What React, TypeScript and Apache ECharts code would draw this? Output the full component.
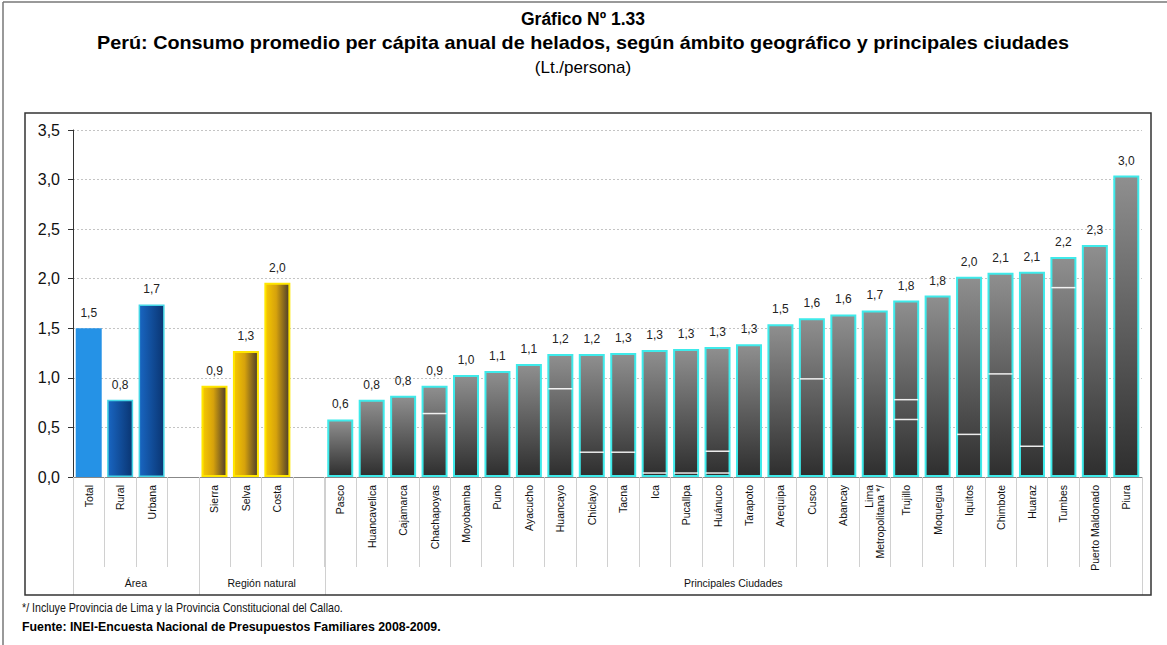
import React, { useEffect, useRef } from "react";
import * as echarts from "echarts";

const areaCategories = ["Total", "Rural", "Urbana"];
const areaValues = [1.5, 0.78, 1.74];
const regionCategories = ["Sierra", "Selva", "Costa"];
const regionValues = [0.92, 1.27, 1.96];
const cityCategories = [
  "Pasco", "Huancavelica", "Cajamarca", "Chachapoyas", "Moyobamba", "Puno", "Ayacucho",
  "Huancayo", "Chiclayo", "Tacna", "Ica", "Pucallpa", "Huánuco", "Tarapoto", "Arequipa",
  "Cusco", "Abancay", "Lima\nMetropolitana */", "Trujillo", "Moquegua", "Iquitos", "Chimbote",
  "Huaraz", "Tumbes", "Puerto Maldonado", "Piura",
];
const cityValues = [
  0.58, 0.78, 0.82, 0.92, 1.03, 1.07, 1.14, 1.24, 1.24, 1.25, 1.28, 1.29, 1.31, 1.34, 1.54,
  1.6, 1.64, 1.68, 1.78, 1.83, 2.02, 2.06, 2.07, 2.22, 2.34, 3.04,
];
const groupLabels = ["Área", "Región natural", "Principales Ciudades"];
const yTicks = [0, 0.5, 1, 1.5, 2, 2.5, 3, 3.5];

// stray white lines visible inside some bars of the original picture
const innerLineCities = [
  "Chachapoyas", "Huancayo", "Chiclayo", "Tacna", "Ica", "Pucallpa", "Huánuco", "Huánuco",
  "Cusco", "Trujillo", "Trujillo", "Iquitos", "Chimbote", "Huaraz", "Tumbes",
];
const innerLineValues = [0.64, 0.89, 0.25, 0.25, 0.04, 0.04, 0.26, 0.04, 0.99, 0.78, 0.58, 0.43, 1.04, 0.31, 1.91];

const titleLines = [
  "Gráfico Nº 1.33",
  "Perú: Consumo promedio per cápita anual de helados, según ámbito geográfico y principales ciudades",
  "(Lt./persona)",
];
const noteText = "*/ Incluye Provincia de Lima y la Provincia Constitucional del Callao.";
const sourceText = "Fuente: INEI-Encuesta Nacional de Presupuestos Familiares 2008-2009.";

const FONT = "'Liberation Sans', Arial, sans-serif";

export default function App() {
  const ref = useRef<HTMLDivElement>(null);

  useEffect(() => {
    document.body.style.margin = "0";
    const el = ref.current!;
    const chart = echarts.init(el, undefined, { renderer: "svg" });

    const categories = [...areaCategories, "", ...regionCategories, " ", ...cityCategories];
    const groupStarts = [0, areaCategories.length + 1, areaCategories.length + regionCategories.length + 2];
    const groupEnds = [groupStarts[1], groupStarts[2], categories.length];

    const totalStyle = { color: "#2592E6", borderWidth: 0 };
    const blueStyle = {
      color: new echarts.graphic.LinearGradient(0, 0, 1, 0, [
        { offset: 0, color: "#1966C2" },
        { offset: 1, color: "#0A3572" },
      ]),
      borderColor: "#45D6E6",
      borderWidth: 1.5,
    };
    const goldStyle = {
      color: new echarts.graphic.LinearGradient(0, 0, 1, 0, [
        { offset: 0, color: "#F7C900" },
        { offset: 0.45, color: "#D6A20C" },
        { offset: 1, color: "#4A3B2C" },
      ]),
      borderColor: "#FFE600",
      borderWidth: 2,
    };
    const grayStyle = {
      color: new echarts.graphic.LinearGradient(0, 0, 0, 1, [
        { offset: 0, color: "#8F8F8F" },
        { offset: 1, color: "#2E2E2E" },
      ]),
      borderColor: "#3EEAEA",
      borderWidth: 2,
    };

    const barData: any[] = [];
    areaValues.forEach((v, i) => barData.push({ value: v, itemStyle: i === 0 ? totalStyle : blueStyle }));
    barData.push({ value: null });
    regionValues.forEach((v) => barData.push({ value: v, itemStyle: goldStyle }));
    barData.push({ value: null });
    cityValues.forEach((v) => barData.push({ value: v, itemStyle: grayStyle }));

    const lineData = innerLineCities.map((c, i) => [categories.indexOf(c), innerLineValues[i]]);

    chart.setOption({
      animation: false,
      grid: { left: 73, right: 25, top: 130, bottom: 168 },
      xAxis: {
        type: "category",
        data: categories,
        boundaryGap: true,
        axisLine: { show: true, lineStyle: { color: "#888", width: 1 } },
        axisTick: { show: true, interval: 0, length: 90, lineStyle: { color: "#d0d0d0", width: 1 } },
        axisLabel: {
          interval: 0,
          rotate: 90,
          fontSize: 10.5,
          fontFamily: FONT,
          color: "#111",
          margin: 8,
          lineHeight: 11,
        },
      },
      yAxis: {
        type: "value",
        min: 0,
        max: 3.5,
        interval: 0.5,
        axisLine: { show: true, lineStyle: { color: "#333", width: 1 } },
        axisTick: { show: true, length: 5, lineStyle: { color: "#333" } },
        axisLabel: {
          fontSize: 16,
          fontFamily: FONT,
          color: "#111",
          margin: 13,
          formatter: (v: number) => (yTicks.includes(v) ? v.toFixed(1).replace(".", ",") : ""),
        },
        splitLine: { show: true, lineStyle: { color: "#c4c4c4", type: [2, 2], width: 1 } },
      },
      series: [
        {
          type: "bar",
          data: barData,
          barWidth: 26,
          label: {
            show: true,
            position: "top",
            distance: 9,
            fontSize: 12,
            fontFamily: FONT,
            color: "#222",
            formatter: (p: any) => (p.value == null ? "" : Number(p.value).toFixed(1).replace(".", ",")),
          },
          z: 2,
        },
        {
          type: "scatter",
          data: lineData,
          symbol: "rect",
          symbolSize: [24, 1.5],
          itemStyle: { color: "#ffffff", opacity: 0.9 },
          silent: true,
          z: 3,
        },
      ],
    });

    const cx = (i: number) => chart.convertToPixel({ xAxisIndex: 0 }, i) as number;
    const step = cx(1) - cx(0);
    const boundary = (i: number) => cx(0) - step / 2 + step * i;
    const yZero = chart.convertToPixel({ yAxisIndex: 0 }, 0) as number;

    const graphics: any[] = [];
    // outer frame (top & left visible)
    graphics.push({ type: "line", shape: { x1: 3, y1: 2, x2: 1167, y2: 2 }, style: { stroke: "#777", lineWidth: 1.5 } });
    graphics.push({ type: "line", shape: { x1: 3, y1: 2, x2: 3, y2: 645 }, style: { stroke: "#777", lineWidth: 1.5 } });
    // inner box
    graphics.push({
      type: "rect",
      shape: { x: 25, y: 113, width: 1126, height: 482 },
      style: { fill: "none", stroke: "#333", lineWidth: 1.5 },
      z: 10,
    });
    // titles
    graphics.push({
      type: "text",
      x: 583, y: 19, scaleX: 1.0,
      style: { text: titleLines[0], fontSize: 17.5, fontWeight: "bold", fontFamily: FONT, fill: "#000", align: "center", verticalAlign: "middle" },
    });
    graphics.push({
      type: "text",
      x: 583, y: 43, scaleX: 1.1,
      style: { text: titleLines[1], fontSize: 18, fontWeight: "bold", fontFamily: FONT, fill: "#000", align: "center", verticalAlign: "middle" },
    });
    graphics.push({
      type: "text",
      x: 583, y: 67,
      style: { text: titleLines[2], fontSize: 17, fontFamily: FONT, fill: "#000", align: "center", verticalAlign: "middle" },
    });
    // footer
    graphics.push({
      type: "text",
      x: 22, y: 608, scaleX: 0.82,
      style: { text: noteText, fontSize: 13, fontFamily: FONT, fill: "#111", align: "left", verticalAlign: "middle" },
    });
    graphics.push({
      type: "text",
      x: 22, y: 627, scaleX: 0.95,
      style: { text: sourceText, fontSize: 13, fontWeight: "bold", fontFamily: FONT, fill: "#000", align: "left", verticalAlign: "middle" },
    });
    // group separators and labels
    const seps = [0, groupStarts[1], groupStarts[2], categories.length];
    seps.forEach((s) => {
      const x = Math.round(boundary(s)) + 0.5;
      graphics.push({ type: "line", shape: { x1: x, y1: yZero, x2: x, y2: 595 }, style: { stroke: "#d0d0d0", lineWidth: 1 } });
    });
    groupLabels.forEach((g, k) => {
      const x = (boundary(groupStarts[k]) + boundary(groupEnds[k])) / 2;
      graphics.push({
        type: "text",
        x, y: 583,
        style: { text: g, fontSize: 10.5, fontFamily: FONT, fill: "#111", align: "center", verticalAlign: "middle" },
      });
    });

    chart.setOption({ graphic: graphics });

    return () => chart.dispose();
  }, []);

  return <div ref={ref} style={{ position: "absolute", left: 0, top: 0, width: 1167, height: 645, background: "#fff" }} />;
}
